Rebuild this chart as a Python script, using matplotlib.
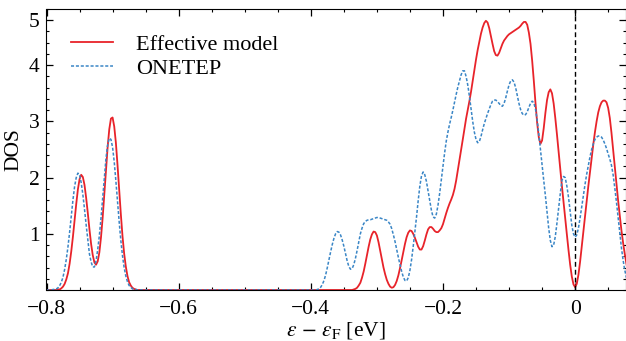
import matplotlib
matplotlib.use("Agg")
import matplotlib.pyplot as plt
import numpy as np
from matplotlib.ticker import MultipleLocator

# Energy grid (eV, relative to the Fermi level): two windows sampled every
# 2.5 meV, the DOS is zero in between
energy_low = np.linspace(-0.800, -0.660, 57)
energy_high = np.linspace(-0.400, 0.080, 193)
energy = np.concatenate([energy_low, energy_high])

# DOS, effective model
dos_model = [
    # -0.800 ... -0.660
    0.00, 0.00, 0.00, 0.00, 0.00, 0.00, 0.00, 0.01, 0.01, 0.03,
    0.06, 0.11, 0.19, 0.30, 0.47, 0.69, 0.95, 1.24, 1.53, 1.79,
    1.97, 2.05, 2.01, 1.87, 1.64, 1.37, 1.08, 0.82, 0.62, 0.49,
    0.45, 0.51, 0.67, 0.94, 1.29, 1.70, 2.13, 2.54, 2.86, 3.05,
    3.07, 2.91, 2.62, 2.22, 1.78, 1.35, 0.96, 0.65, 0.42, 0.25,
    0.14, 0.08, 0.04, 0.02, 0.01, 0.00, 0.00,
    # -0.400 ... 0.080, eight values per 0.02 eV
    0.00, 0.00, 0.00, 0.00, 0.00, 0.00, 0.00, 0.00,
    0.00, 0.00, 0.00, 0.00, 0.00, 0.00, 0.00, 0.00,
    0.00, 0.00, 0.00, 0.00, 0.00, 0.00, 0.00, 0.00,
    0.00, 0.00, 0.01, 0.02, 0.04, 0.08, 0.13, 0.22,
    0.33, 0.47, 0.62, 0.77, 0.90, 0.99, 1.04, 1.03,
    0.97, 0.85, 0.70, 0.55, 0.40, 0.28, 0.18, 0.11,
    0.06, 0.04, 0.05, 0.09, 0.16, 0.26, 0.39, 0.53,
    0.68, 0.82, 0.94, 1.02, 1.06, 1.05, 1.00, 0.93,
    0.85, 0.77, 0.72, 0.72, 0.78, 0.88, 0.99, 1.08,
    1.12, 1.12, 1.09, 1.05, 1.03, 1.03, 1.06, 1.10,
    1.17, 1.27, 1.37, 1.46, 1.54, 1.61, 1.69, 1.80,
    1.95, 2.13, 2.32, 2.50, 2.68, 2.87, 3.05, 3.20,
    3.36, 3.53, 3.72, 3.91, 4.10, 4.27, 4.42, 4.56,
    4.67, 4.75, 4.79, 4.76, 4.66, 4.52, 4.38, 4.25,
    4.18, 4.17, 4.22, 4.30, 4.38, 4.44, 4.48, 4.52,
    4.55, 4.57, 4.59, 4.61, 4.63, 4.65, 4.67, 4.70,
    4.74, 4.77, 4.77, 4.72, 4.58, 4.38, 4.08, 3.72,
    3.33, 2.98, 2.72, 2.60, 2.66, 2.88, 3.15, 3.38,
    3.52, 3.57, 3.50, 3.32, 3.06, 2.77, 2.46, 2.15,
    1.85, 1.56, 1.28, 0.99, 0.71, 0.45, 0.24, 0.10,
    0.05, 0.11, 0.27, 0.50, 0.77, 1.05, 1.32, 1.59,
    1.85, 2.10, 2.35, 2.59, 2.81, 3.00, 3.16, 3.27,
    3.34, 3.37, 3.37, 3.34, 3.24, 3.06, 2.80, 2.50,
    2.18, 1.88, 1.60, 1.33, 1.07, 0.85, 0.65, 0.48,
    0.34,
]

# DOS, ONETEP
dos_onetep = [
    # -0.800 ... -0.660
    0.00, 0.00, 0.00, 0.00, 0.01, 0.01, 0.02, 0.04, 0.08, 0.14,
    0.23, 0.37, 0.55, 0.77, 1.03, 1.32, 1.60, 1.84, 2.00, 2.08,
    2.05, 1.91, 1.70, 1.44, 1.16, 0.90, 0.64, 0.50, 0.41, 0.41,
    0.52, 0.72, 0.97, 1.28, 1.64, 2.01, 2.34, 2.58, 2.70, 2.68,
    2.54, 2.28, 1.94, 1.57, 1.21, 0.88, 0.61, 0.40, 0.25, 0.15,
    0.08, 0.05, 0.02, 0.01, 0.01, 0.00, 0.00,
    # -0.400 ... 0.080, eight values per 0.02 eV
    0.00, 0.00, 0.00, 0.00, 0.01, 0.02, 0.05, 0.10,
    0.17, 0.27, 0.40, 0.54, 0.68, 0.81, 0.92, 1.00,
    1.04, 1.03, 0.98, 0.89, 0.78, 0.65, 0.52, 0.42,
    0.37, 0.38, 0.45, 0.56, 0.70, 0.85, 1.00, 1.10,
    1.18, 1.22, 1.24, 1.25, 1.25, 1.26, 1.27, 1.28,
    1.29, 1.29, 1.28, 1.27, 1.26, 1.25, 1.24, 1.21,
    1.17, 1.09, 0.98, 0.86, 0.72, 0.58, 0.45, 0.33,
    0.23, 0.17, 0.16, 0.22, 0.35, 0.54, 0.78, 1.04,
    1.30, 1.59, 1.85, 2.03, 2.10, 2.05, 1.93, 1.76,
    1.58, 1.42, 1.30, 1.28, 1.35, 1.51, 1.72, 1.96,
    2.20, 2.44, 2.65, 2.81, 2.95, 3.07, 3.20, 3.34,
    3.48, 3.61, 3.72, 3.83, 3.90, 3.90, 3.80, 3.65,
    3.45, 3.22, 3.00, 2.81, 2.68, 2.62, 2.64, 2.73,
    2.85, 2.96, 3.05, 3.14, 3.22, 3.30, 3.36, 3.38,
    3.38, 3.35, 3.32, 3.28, 3.27, 3.32, 3.42, 3.54,
    3.65, 3.72, 3.74, 3.70, 3.60, 3.46, 3.32, 3.21,
    3.14, 3.11, 3.12, 3.17, 3.25, 3.32, 3.36, 3.33,
    3.22, 3.03, 2.78, 2.50, 2.22, 1.95, 1.68, 1.38,
    1.10, 0.88, 0.77, 0.80, 0.95, 1.19, 1.45, 1.71,
    1.95, 2.02, 2.00, 1.85, 1.65, 1.40, 1.15, 1.00,
    0.94, 0.98, 1.10, 1.28, 1.48, 1.68, 1.88, 2.06,
    2.22, 2.37, 2.50, 2.60, 2.68, 2.72, 2.74, 2.74,
    2.72, 2.67, 2.60, 2.52, 2.42, 2.33, 2.22, 2.05,
    1.82, 1.57, 1.30, 1.03, 0.76, 0.54, 0.36, 0.23,
    0.14,
]

x_ticks = [-0.8, -0.6, -0.4, -0.2, 0.0]
x_ticklabels = ["\u22120.8", "\u22120.6", "\u22120.4", "\u22120.2", "0"]
y_ticks = [1, 2, 3, 4, 4.8]
y_ticklabels = ["1", "2", "3", "4", "5"]

plt.rcParams["font.family"] = ["Liberation Serif", "DejaVu Serif"]
plt.rcParams["mathtext.fontset"] = "stix"

fig = plt.figure(figsize=(6.26, 3.41), dpi=100)
ax = fig.add_axes([46.5 / 626, 51 / 341, 579.5 / 626, 281 / 341])

ax.plot(energy, dos_model, color="#e8232a", lw=1.3, label="Effective model")
ax.plot(energy, dos_onetep, color="#3a86c6", lw=1.1, ls=(0, (2, 1.2)),
        label="ONETEP")
ax.axvline(0, color="black", lw=1.0, ls=(0, (3.5, 2.2)))

ax.set_xlim(-0.8, 0.077)
ax.set_ylim(0, 5.0)

ax.set_xticks(x_ticks)
ax.set_xticklabels(x_ticklabels)
ax.set_yticks(y_ticks)
ax.set_yticklabels(y_ticklabels)
ax.xaxis.set_minor_locator(MultipleLocator(0.05))
ax.yaxis.set_minor_locator(MultipleLocator(0.2))

ax.tick_params(which="both", direction="in", top=True, right=True,
               labelsize=15.5)
ax.tick_params(which="major", length=5, width=0.9)
ax.tick_params(which="minor", length=2.5, width=0.8)
ax.tick_params(axis="x", which="major", pad=7)
ax.tick_params(axis="y", which="major", pad=5)

ax.set_xlabel(r"$\varepsilon\,-\,\varepsilon_{\mathrm{F}}$ [eV]",
              fontsize=15.5, labelpad=1)
ax.set_ylabel("DOS", fontsize=15.5, labelpad=4)

ax.legend(loc="upper left", bbox_to_anchor=(0.007, 0.98), frameon=False,
          fontsize=16, handlelength=1.9, handletextpad=1.05,
          labelspacing=0.15)

fig.savefig("out.png", dpi=100)
